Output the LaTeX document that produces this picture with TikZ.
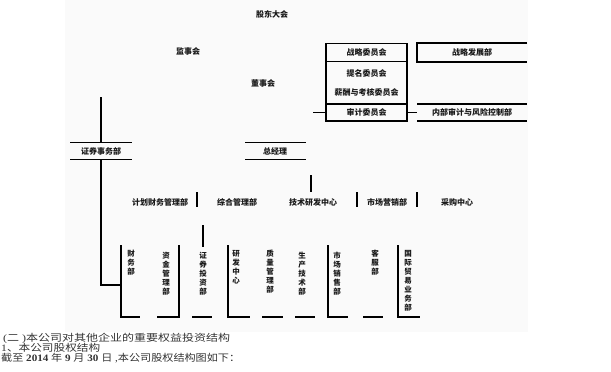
\documentclass[tikz,border=0pt]{standalone}
\usepackage{fontspec}
\usepackage{graphicx}
\setmainfont{Liberation Serif}
\newfontfamily\cjk{Noto Sans CJK SC}
\tikzset{
  lbl/.style={font=\cjk\bfseries\fontsize{8}{9}\selectfont, text=black!90, inner sep=0pt},
  vlbl/.style={lbl, align=center, anchor=north, font=\cjk\bfseries\fontsize{7.5}{9}\selectfont},
  ln/.style={line width=1.3pt, black},
  boxed/.style={lbl, draw=black, line width=1.3pt, outer sep=0pt, minimum width=81pt, minimum height=18pt},
  captext/.style={anchor=base west, inner sep=0pt, font=\fontsize{9.8}{9.8}\selectfont, text=black!80},
}
\newcommand{\cz}[1]{{\cjk #1}}
\begin{document}
\begin{tikzpicture}[x=1pt,y=-1pt]
\useasboundingbox (0,0) rectangle (611,372);
\fill[black!2] (65,0) rectangle (528,332);
% top labels
\node[lbl] (gd) at (272,14) {股东大会};
\node[lbl] (js) at (188,51) {监事会};
\node[lbl] (ds) at (263,83) {董事会};
% committees
\node[boxed] (zw) at (366.5,52.5) {战略委员会};
\coordinate (b2a) at (527,43);
\coordinate (b2b) at (417,43);
\coordinate (b2c) at (417,62);
\coordinate (b2d) at (527,62);
\draw[ln] (b2a) -- (b2b) -- (b2c) -- (b2d);
\node[lbl] (zb) at (472,52.5) {战略发展部};
\node[lbl] (tm) at (366.5,73) {提名委员会};
\node[lbl] (xc) at (366.5,92) {薪酬与考核委员会};
\node[boxed, minimum height=17pt] (sj) at (366.5,112.5) {审计委员会};
\draw[ln] (zw.south west) -- (sj.north west) (zw.south east) -- (sj.north east);
\coordinate (stub) at (313,112.5);
\draw[ln] (stub) -- (sj.west);
\coordinate (b4l) at (417,112.5);
\draw[ln] (sj.east) -- (b4l);
\coordinate (b4a) at (417,104);
\coordinate (b4b) at (527,104);
\coordinate (b4c) at (417,121);
\coordinate (b4d) at (527,121);
\draw[ln] (b4a) -- (b4b) (b4c) -- (b4d);
\node[lbl] (ns) at (472,112.5) {内部审计与风险控制部};
% left branch
\node[lbl] (zq) at (101,151) {证券事务部};
\coordinate (zqt1) at (70,142.5);
\coordinate (zqt2) at (132,142.5);
\coordinate (zqb1) at (70,159.5);
\coordinate (zqb2) at (132,159.5);
\draw[ln] (zqt1) -- (zqt2) (zqb1) -- (zqb2);
\coordinate (L0) at (101,97);
\coordinate (L1) at (101,142.5);
\coordinate (L2) at (101,159.5);
\coordinate (L3) at (101,285);
\coordinate (L4) at (121,285);
\draw[ln] (L0) -- (L1);
\draw[ln] (L2) -- (L3) -- (L4);
% general manager
\node[lbl] (zjl) at (275,151) {总经理};
\draw[ln] (245,142.5) -- (306,142.5) (245,159.5) -- (306,159.5);
\coordinate (g1) at (311,175);
\coordinate (g2) at (311,192);
\draw[ln] (g1) -- (g2);
% department row
\node[lbl] (d1) at (160,202) {计划财务管理部};
\node[lbl] (d2) at (237,202) {综合管理部};
\node[lbl] (d3) at (313,202) {技术研发中心};
\node[lbl] (d4) at (387,202) {市场营销部};
\node[lbl] (d5) at (457,202) {采购中心};
\foreach \x in {197,357,417} \draw[ln] (\x,192) -- (\x,207);
% bottom brackets
\draw[ln] (121,245) -- (121,317) -- (140,317);
\draw[ln] (157,317) -- (179,317) -- (179,245);
\draw[ln] (203,225) -- (203,247);
\draw[ln] (192,317) -- (212,317);
\draw[ln] (228,245) -- (228,317) -- (250,317);
\draw[ln] (262,317) -- (283,317);
\draw[ln] (295,317) -- (315,317);
\draw[ln] (328,245) -- (328,317) -- (348,317);
\draw[ln] (363,317) -- (383,317);
\draw[ln] (398,245) -- (398,317) -- (420,317);
% vertical texts
\node[vlbl] (v1) at (131,250) {财\\务\\部};
\node[vlbl] (v2) at (166,252) {资\\金\\管\\理\\部};
\node[vlbl] (v3) at (203,252) {证\\券\\投\\资\\部};
\node[vlbl] (v4) at (236,250) {研\\发\\中\\心};
\node[vlbl] (v5) at (270,250) {质\\量\\管\\理\\部};
\node[vlbl] (v6) at (302,252) {生\\产\\技\\术\\部};
\node[vlbl] (v7) at (337,252) {市\\场\\销\\售\\部};
\node[vlbl] (v8) at (375,250) {客\\服\\部};
\node[vlbl] (v9) at (408,250) {国\\际\\贸\\易\\业\\务\\部};
% caption
\node[captext] (c1) at (3,341) {\resizebox{227pt}{\height}{(\cz{二} )\cz{本公司对其他企业的重要权益投资结构}}};
\node[captext] (c2) at (1,351) {\resizebox{99pt}{\height}{1\cz{、本公司股权结构}}};
\node[captext] (c3) at (1,361) {\resizebox{239pt}{\height}{\cz{截至} \textbf{2014} \cz{年} \textbf{9} \cz{月} \textbf{30} \cz{日} ,\cz{本公司股权结构图如下：}}};
\end{tikzpicture}
\end{document}
